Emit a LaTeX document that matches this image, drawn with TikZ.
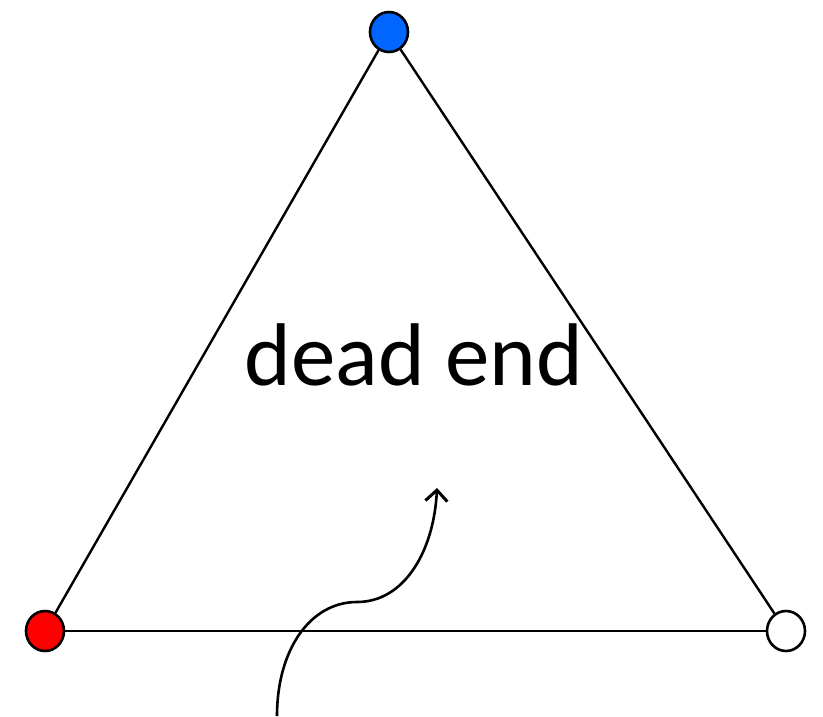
\documentclass[tikz,border=0pt]{standalone}
\usepackage{fontspec}
\newfontfamily\labelfont{Carlito}
\usepackage{tikz}
\usetikzlibrary{arrows.meta,shapes.geometric}
\begin{document}
\begin{tikzpicture}[x=1pt, y=-1pt,
  vertex/.style={draw, line width=2.6pt, ellipse, minimum width=38pt, minimum height=40pt, inner sep=0pt},
  edge/.style={line width=2.4pt},
  pointer/.style={line width=2.6pt, -{Straight Barb[length=11pt, width=22pt, line width=3pt]}}]

\useasboundingbox (0,0) rectangle (823,716);

% vertices
\node[vertex, fill={rgb,255:red,0;green,102;blue,255}] (top) at (389,32) {};
\node[vertex, fill=red] (left) at (45,631) {};
\node[vertex, fill=white] (right) at (786,631) {};

% edges
\draw[edge] (top) -- (left);
\draw[edge] (top) -- (right);
\draw[edge] (left) -- (right);

% label
\node[anchor=base, inner sep=0pt, font=\labelfont\fontsize{89}{100}\selectfont] (label) at (414,385) {dead end};

% arrow
\coordinate (start) at (277,716);
\coordinate (bend) at (357,602);
\coordinate (tip) at (437,488);
\draw[pointer] (start) .. controls (277,650) and (310,602) .. (bend)
  .. controls (405,602) and (434,550) .. (tip);
\end{tikzpicture}
\end{document}
